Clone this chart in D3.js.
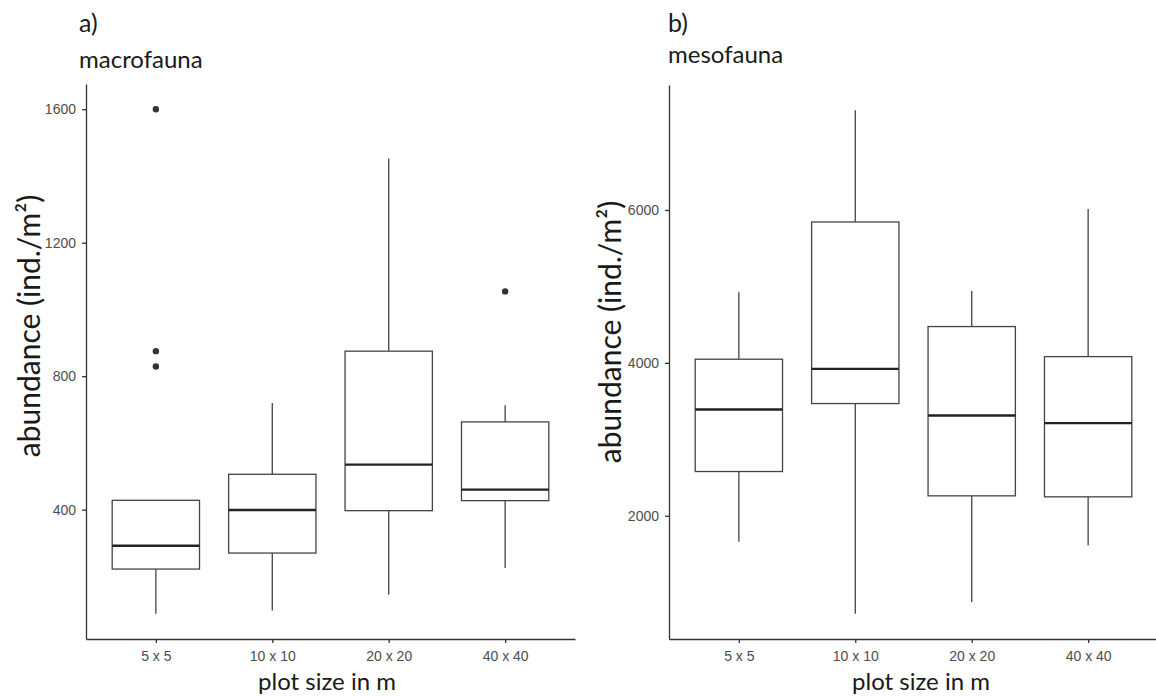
<!DOCTYPE html>
<html>
<head>
<meta charset="utf-8">
<script src="https://cdn.jsdelivr.net/npm/d3@7"></script>
<style>
	body { margin: 0; background: #fff; }
	svg { display: block; }
	.axis .tick text { fill: #4d4d4d; font-family: 'Liberation Sans', Arial, sans-serif; font-size: 14px; }
	.axis path, .axis line { stroke: #333; stroke-width: 1.3; }
	.label { font-family: Lato, 'Open Sans', sans-serif; fill: #1a1a1a; }
</style>
</head>
<body>
<svg id="chart" width="1156" height="697"></svg>
<script>
var categories = ['5 x 5', '10 x 10', '20 x 20', '40 x 40'];

// a) macrofauna, ind./m2
var macroLow = [88, 98, 145, 225];
var macroQ1 = [222, 270, 397, 427];
var macroMedian = [292, 399, 535, 460];
var macroQ3 = [428, 506, 875, 663];
var macroHigh = [428, 720, 1452, 713];
var macroOutliers = [[1600, 875, 829], [], [], [1054]];
var macroTicks = [400, 800, 1200, 1600];

// b) mesofauna, ind./m2
var mesoLow = [1660, 718, 872, 1612];
var mesoQ1 = [2579, 3468, 2261, 2248];
var mesoMedian = [3390, 3922, 3311, 3212];
var mesoQ3 = [4048, 5843, 4475, 4082];
var mesoHigh = [4924, 7305, 4941, 6013];
var mesoOutliers = [[], [], [], []];
var mesoTicks = [2000, 4000, 6000];

var svg = d3.select('#chart');

function drawPanel(p) {
	var g = svg.append('g');

	// ggplot style: 5% padding on the data range
	var all = p.low.concat(p.high, d3.merge(p.outliers));
	var lo = d3.min(all), hi = d3.max(all);
	var pad = (hi - lo) * 0.05;

	var yScale = d3.scaleLinear()
		.domain([lo - pad, hi + pad])
		.range([p.bottom, p.top]);

	var xScale = d3.scalePoint()
		.domain(categories)
		.range([p.left, p.right])
		.padding(0.6);

	var boxW = xScale.step() * 0.75;

	var rows = categories.map(function(c, i) {
		return {
			cat: c,
			low: p.low[i], q1: p.q1[i], med: p.median[i], q3: p.q3[i], high: p.high[i],
			out: p.outliers[i]
		};
	});

	// whiskers
	g.selectAll('.whisker-hi').data(rows).enter()
		.append('line')
			.attr('x1', function(d) { return xScale(d.cat); })
			.attr('x2', function(d) { return xScale(d.cat); })
			.attr('y1', function(d) { return yScale(d.q3); })
			.attr('y2', function(d) { return yScale(d.high); })
			.attr('stroke', '#444')
			.attr('stroke-width', 1.3);

	g.selectAll('.whisker-lo').data(rows).enter()
		.append('line')
			.attr('x1', function(d) { return xScale(d.cat); })
			.attr('x2', function(d) { return xScale(d.cat); })
			.attr('y1', function(d) { return yScale(d.q1); })
			.attr('y2', function(d) { return yScale(d.low); })
			.attr('stroke', '#444')
			.attr('stroke-width', 1.3);

	// boxes
	g.selectAll('.box').data(rows).enter()
		.append('rect')
			.attr('x', function(d) { return xScale(d.cat) - boxW / 2; })
			.attr('y', function(d) { return yScale(d.q3); })
			.attr('width', boxW)
			.attr('height', function(d) { return yScale(d.q1) - yScale(d.q3); })
			.attr('fill', '#fff')
			.attr('stroke', '#444')
			.attr('stroke-width', 1.3);

	// medians
	g.selectAll('.median').data(rows).enter()
		.append('line')
			.attr('x1', function(d) { return xScale(d.cat) - boxW / 2; })
			.attr('x2', function(d) { return xScale(d.cat) + boxW / 2; })
			.attr('y1', function(d) { return yScale(d.med); })
			.attr('y2', function(d) { return yScale(d.med); })
			.attr('stroke', '#222')
			.attr('stroke-width', 2.4);

	// outliers
	var pts = [];
	rows.forEach(function(d) {
		d.out.forEach(function(v) { pts.push({ cat: d.cat, v: v }); });
	});
	g.selectAll('.outlier').data(pts).enter()
		.append('circle')
			.attr('cx', function(d) { return xScale(d.cat); })
			.attr('cy', function(d) { return yScale(d.v); })
			.attr('r', 3.2)
			.attr('fill', '#333');

	// axes
	g.append('g')
		.attr('class', 'axis')
		.attr('transform', 'translate(' + p.left + ',0)')
		.call(d3.axisLeft(yScale).tickValues(p.ticks).tickFormat(d3.format('d'))
			.tickSizeInner(4).tickSizeOuter(0).tickPadding(6));

	g.append('g')
		.attr('class', 'axis')
		.attr('transform', 'translate(0,' + p.bottom + ')')
		.call(d3.axisBottom(xScale).tickSizeInner(4).tickSizeOuter(0).tickPadding(8));

	// texts
	g.append('text')
		.attr('class', 'label')
		.attr('x', p.titleX)
		.attr('y', 32)
		.style('font-size', '25px')
		.text(p.tag);

	g.append('text')
		.attr('class', 'label')
		.attr('x', p.titleX)
		.attr('y', p.subY)
		.style('font-size', '24px')
		.text(p.subtitle);

	g.append('text')
		.attr('class', 'label')
		.attr('text-anchor', 'middle')
		.attr('x', p.xTitleX)
		.attr('y', 690)
		.style('font-size', '24px')
		.text('plot size in m');

	g.append('text')
		.attr('class', 'label')
		.attr('text-anchor', 'middle')
		.attr('transform', 'translate(' + p.yTitleX + ',' + p.yTitleY + ') rotate(-90)')
		.style('font-size', '30px')
		.text('abundance (ind./m\u00b2)');
}

drawPanel({
	left: 86, right: 575, top: 84, bottom: 639,
	low: macroLow, q1: macroQ1, median: macroMedian, q3: macroQ3, high: macroHigh,
	outliers: macroOutliers, ticks: macroTicks,
	tag: 'a)', subtitle: 'macrofauna', titleX: 79, subY: 68,
	xTitleX: 327, yTitleX: 40, yTitleY: 326
});

drawPanel({
	left: 669, right: 1158, top: 85, bottom: 639,
	low: mesoLow, q1: mesoQ1, median: mesoMedian, q3: mesoQ3, high: mesoHigh,
	outliers: mesoOutliers, ticks: mesoTicks,
	tag: 'b)', subtitle: 'mesofauna', titleX: 668, subY: 63,
	xTitleX: 921, yTitleX: 621, yTitleY: 332
});
</script>
</body>
</html>
